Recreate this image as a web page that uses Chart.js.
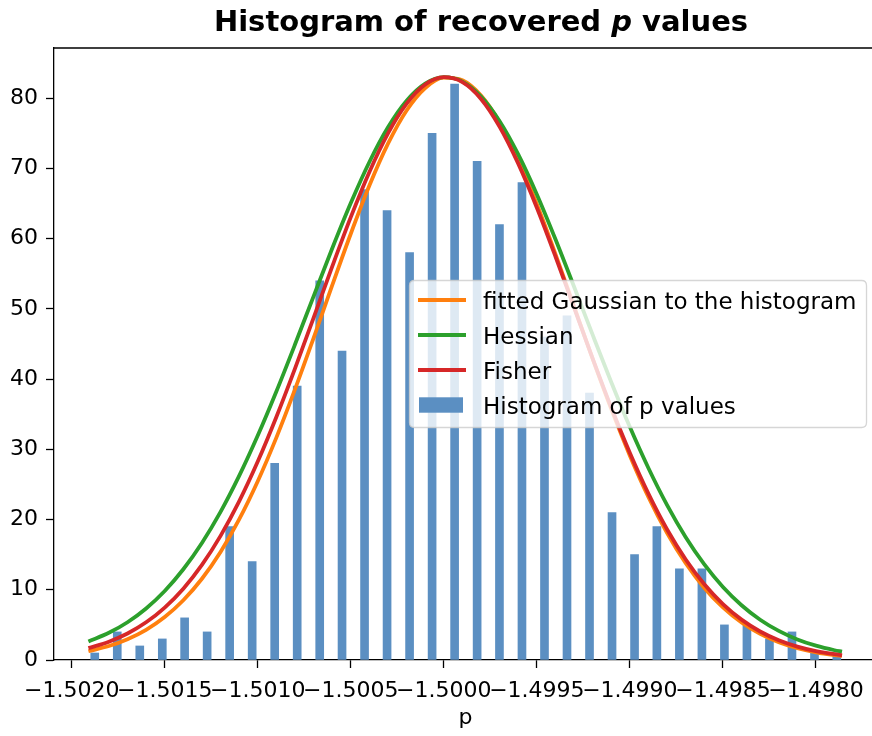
<!DOCTYPE html>
<html>
<head>
<meta charset="utf-8">
<script src="https://cdn.jsdelivr.net/npm/chart.js@4.4.1/dist/chart.umd.min.js"></script>
<style>
  html, body { margin: 0; padding: 0; background: #fff; overflow: hidden; }
  #wrap { position: relative; width: 872px; height: 736px; overflow: hidden; background: #fff; }
  #chart { position: absolute; left: 0; top: 0; }
  #title {
    position: absolute; left: 0; top: 7px; width: 962px; text-align: center;
    font-family: 'DejaVu Sans', sans-serif; font-weight: bold; font-size: 29px;
    line-height: 29px; color: #000; white-space: nowrap;
  }
</style>
</head>
<body>
<div id="wrap">
  <canvas id="chart" width="880" height="736"></canvas>
  <div id="title">Histogram of recovered <i>p</i> values</div>
</div>
<script>
// Histogram bins (centres) and their counts
const binCenters = [
  -1.501876, -1.501755, -1.501634, -1.501513, -1.501393, -1.501272, -1.501151, -1.501030,
  -1.500909, -1.500788, -1.500667, -1.500547, -1.500426, -1.500305, -1.500184, -1.500063,
  -1.499942, -1.499821, -1.499701, -1.499580, -1.499459, -1.499338, -1.499217, -1.499096,
  -1.498975, -1.498855, -1.498734, -1.498613, -1.498492, -1.498371, -1.498250, -1.498129,
  -1.498008, -1.497888
];
const counts = [
  1, 4, 2, 3, 6, 4, 19, 14, 28, 39, 54, 44, 67, 64, 58, 75,
  82, 71, 62, 68, 46, 49, 38, 21, 15, 19, 13, 13, 5, 5, 3, 4, 1, 1
];

// Sample positions of the three density curves
const curveX = [
  -1.50191, -1.5018, -1.5017, -1.5016, -1.5015, -1.5014, -1.5013, -1.5012, -1.5011, -1.5010,
  -1.5009, -1.5008, -1.5007, -1.5006, -1.5005, -1.5004, -1.5003, -1.5002, -1.5001, -1.5000,
  -1.4999, -1.4998, -1.4997, -1.4996, -1.4995, -1.4994, -1.4993, -1.4992, -1.4991, -1.4990,
  -1.4989, -1.4988, -1.4987, -1.4986, -1.4985, -1.4984, -1.4983, -1.4982, -1.4981, -1.4980,
  -1.4979, -1.49786
];
const fittedGaussian = [
  1.25, 1.99, 2.96, 4.30, 6.12, 8.51, 11.57, 15.39, 20.02, 25.46,
  31.67, 38.53, 45.85, 53.34, 60.70, 67.56, 73.52, 78.25, 81.45, 82.92,
  82.55, 80.37, 76.53, 71.26, 64.89, 57.80, 50.34, 42.88, 35.72, 29.10,
  23.19, 18.07, 13.77, 10.26, 7.48, 5.33, 3.72, 2.53, 1.69, 1.10,
  0.70, 0.58
];
const hessian = [
  2.64, 3.87, 5.38, 7.34, 9.83, 12.92, 16.66, 21.09, 26.21, 31.96,
  38.24, 44.92, 51.79, 58.60, 65.07, 70.92, 75.86, 79.64, 82.07, 82.99,
  82.37, 80.24, 76.72, 71.99, 66.30, 59.92, 53.16, 46.29, 39.56, 33.17,
  27.31, 22.06, 17.49, 13.61, 10.40, 7.80, 5.73, 4.14, 2.93, 2.04,
  1.39, 1.19
];
const fisher = [
  1.69, 2.61, 3.78, 5.37, 7.47, 10.16, 13.55, 17.68, 22.59, 28.26,
  34.61, 41.50, 48.73, 56.02, 63.06, 69.50, 74.99, 79.22, 81.95, 82.99,
  82.29, 79.90, 75.94, 70.68, 64.41, 57.46, 50.19, 42.93, 35.95, 29.48,
  23.66, 18.59, 14.31, 10.78, 7.96, 5.75, 4.06, 2.81, 1.91, 1.27,
  0.82, 0.69
];

// Axis ticks
const xTickValues = [-1.5020, -1.5015, -1.5010, -1.5005, -1.5000, -1.4995, -1.4990, -1.4985, -1.4980];
const xTickLabels = ['\u22121.5020', '\u22121.5015', '\u22121.5010', '\u22121.5005', '\u22121.5000',
                     '\u22121.4995', '\u22121.4990', '\u22121.4985', '\u22121.4980'];
const yTickValues = [0, 10, 20, 30, 40, 50, 60, 70, 80];
const yTickLabels = ['0', '10', '20', '30', '40', '50', '60', '70', '80'];
const xMin = -1.502095, xMax = -1.497672;
const yMin = 0, yMax = 87.15;

const FONT = 'DejaVu Sans';
const BAR_COLOR = '#5b8fc2';
const LINE_W = 3.8;
const pts = (xs, ys) => xs.map((x, i) => ({ x: x, y: ys[i] }));

const lineStyle = (color, order) => ({
  type: 'line', borderColor: color, backgroundColor: color, borderWidth: LINE_W,
  pointRadius: 0, fill: false, cubicInterpolationMode: 'monotone', order: order
});

// Axes frame: top and right spines
const framePlugin = {
  id: 'frame',
  afterDraw(chart) {
    const { ctx, chartArea: a } = chart;
    ctx.save();
    ctx.strokeStyle = '#000';
    ctx.lineWidth = 1.3;
    ctx.beginPath();
    ctx.moveTo(a.left, a.top);
    ctx.lineTo(a.right, a.top);
    ctx.lineTo(a.right, a.bottom);
    ctx.stroke();
    ctx.restore();
  }
};

// Legend box placed at the centre right of the axes
const boxLegendPlugin = {
  id: 'boxLegend',
  afterDatasetsDraw(chart) {
    const ctx = chart.ctx;
    const L = 409.5, T = 280.5, R = 866.5, B = 427.5, r = 5;
    ctx.save();
    ctx.beginPath();
    ctx.moveTo(L + r, T);
    ctx.lineTo(R - r, T); ctx.quadraticCurveTo(R, T, R, T + r);
    ctx.lineTo(R, B - r); ctx.quadraticCurveTo(R, B, R - r, B);
    ctx.lineTo(L + r, B); ctx.quadraticCurveTo(L, B, L, B - r);
    ctx.lineTo(L, T + r); ctx.quadraticCurveTo(L, T, L + r, T);
    ctx.closePath();
    ctx.fillStyle = 'rgba(255,255,255,0.8)';
    ctx.fill();
    ctx.strokeStyle = 'rgba(204,204,204,0.8)';
    ctx.lineWidth = 1.3;
    ctx.stroke();

    const rows = [300, 335, 370, 405];
    ctx.font = '23px "' + FONT + '"';
    ctx.textBaseline = 'alphabetic';
    ctx.textAlign = 'left';
    chart.data.datasets.forEach((ds, i) => {
      const y = rows[i];
      if (ds.type === 'line') {
        ctx.strokeStyle = ds.borderColor;
        ctx.lineWidth = LINE_W;
        ctx.beginPath();
        ctx.moveTo(418, y);
        ctx.lineTo(466, y);
        ctx.stroke();
      } else {
        ctx.fillStyle = ds.backgroundColor;
        ctx.fillRect(419, y - 7.7, 44, 15.4);
      }
      ctx.fillStyle = '#000';
      ctx.fillText(ds.label, 483, y + 8.5);
    });
    ctx.restore();
  }
};

new Chart(document.getElementById('chart'), {
  type: 'bar',
  data: {
    datasets: [
      Object.assign({ label: 'fitted Gaussian to the histogram', data: pts(curveX, fittedGaussian) }, lineStyle('#ff7f0e', 2)),
      Object.assign({ label: 'Hessian', data: pts(curveX, hessian) }, lineStyle('#2ca02c', 1)),
      Object.assign({ label: 'Fisher', data: pts(curveX, fisher) }, lineStyle('#d62728', 0)),
      {
        type: 'bar', label: 'Histogram of p values', data: pts(binCenters, counts),
        backgroundColor: BAR_COLOR, borderWidth: 0, barThickness: 8, order: 3
      }
    ]
  },
  options: {
    responsive: false,
    animation: false,
    devicePixelRatio: 1,
    events: [],
    layout: { padding: { left: 0, top: 48, right: 3, bottom: 0 } },
    plugins: { legend: { display: false }, tooltip: { enabled: false }, title: { display: false } },
    scales: {
      x: {
        type: 'linear', min: xMin, max: xMax, offset: false,
        afterBuildTicks: (s) => { s.ticks = xTickValues.map(v => ({ value: v })); },
        afterFit: (s) => { s.height = 76; },
        ticks: {
          autoSkip: false, maxRotation: 0, minRotation: 0, padding: 10, color: '#000',
          font: { family: FONT, size: 22 },
          callback: (v, i) => xTickLabels[i]
        },
        grid: { display: true, drawOnChartArea: false, drawTicks: true, tickLength: 8, tickWidth: 1.3, tickColor: '#000', offset: false },
        border: { display: true, color: '#000', width: 1.3 },
        title: { display: true, text: 'p', color: '#000', font: { family: FONT, size: 22 }, padding: { top: 0, bottom: 5 } }
      },
      y: {
        type: 'linear', position: 'left', min: yMin, max: yMax,
        afterBuildTicks: (s) => { s.ticks = yTickValues.map(v => ({ value: v })); },
        afterFit: (s) => { s.width = 54; },
        ticks: {
          padding: 8, color: '#000', font: { family: FONT, size: 22 },
          callback: (v, i) => yTickLabels[i]
        },
        grid: { display: true, drawOnChartArea: false, drawTicks: true, tickLength: 8, tickWidth: 1.3, tickColor: '#000' },
        border: { display: true, color: '#000', width: 1.3 }
      }
    }
  },
  plugins: [framePlugin, boxLegendPlugin]
});
</script>
</body>
</html>
